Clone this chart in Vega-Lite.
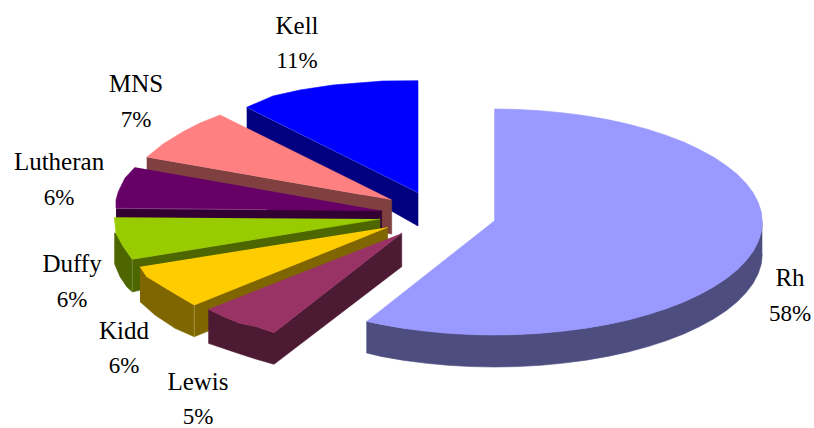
{
  "$schema": "https://vega.github.io/schema/vega-lite/v6.json",
  "width": 814,
  "height": 428,
  "padding": 0,
  "autosize": {"type": "none"},
  "background": "white",
  "config": {"view": {"stroke": null}},
  "datasets": {
    "faces": [
      {"face":"Kell side","ord":1,"x":-160.3,"y":106.7},{"face":"Kell side","ord":2,"x":11,"y":21.3},{"face":"Kell side","ord":3,"x":11,"y":-12},{"face":"Kell side","ord":4,"x":-160.3,"y":85},
      {"face":"Kell top","ord":1,"x":-160.3,"y":106.7},{"face":"Kell top","ord":2,"x":-134,"y":118},{"face":"Kell top","ord":3,"x":-107,"y":124},{"face":"Kell top","ord":4,"x":-74,"y":129},{"face":"Kell top","ord":5,"x":-24,"y":133},{"face":"Kell top","ord":6,"x":11,"y":133.3},{"face":"Kell top","ord":7,"x":11,"y":21.3},
      {"face":"Kell edge","ord":1,"x":-160.3,"y":106.7},{"face":"Kell edge","ord":2,"x":11,"y":21.3},
      {"face":"MNS side","ord":1,"x":-260.3,"y":56.7},{"face":"MNS side","ord":2,"x":-15.3,"y":14},{"face":"MNS side","ord":3,"x":-15.3,"y":-20},{"face":"MNS side","ord":4,"x":-260.3,"y":22},
      {"face":"MNS top","ord":1,"x":-260.3,"y":56.7},{"face":"MNS top","ord":2,"x":-244,"y":70},{"face":"MNS top","ord":3,"x":-224,"y":82.3},{"face":"MNS top","ord":4,"x":-207,"y":91},{"face":"MNS top","ord":5,"x":-187,"y":99},{"face":"MNS top","ord":6,"x":-15.3,"y":14},
      {"face":"Lutheran side","ord":1,"x":-291,"y":5.7},{"face":"Lutheran side","ord":2,"x":-25.3,"y":3.3},{"face":"Lutheran side","ord":3,"x":-25.3,"y":-16},{"face":"Lutheran side","ord":4,"x":-291,"y":-16},
      {"face":"Lutheran top","ord":1,"x":-272,"y":46.7},{"face":"Lutheran top","ord":2,"x":-282,"y":36},{"face":"Lutheran top","ord":3,"x":-288.7,"y":22.3},{"face":"Lutheran top","ord":4,"x":-291,"y":14},{"face":"Lutheran top","ord":5,"x":-291,"y":5.7},{"face":"Lutheran top","ord":6,"x":-25.3,"y":3.3},
      {"face":"Lutheran edge","ord":1,"x":-291,"y":5.7},{"face":"Lutheran edge","ord":2,"x":-140,"y":4.3},
      {"face":"Duffy side","ord":1,"x":-292.7,"y":-19},{"face":"Duffy side","ord":2,"x":-291,"y":-19.3},{"face":"Duffy side","ord":3,"x":-283.7,"y":-32.7},{"face":"Duffy side","ord":4,"x":-274.7,"y":-45.3},{"face":"Duffy side","ord":5,"x":-27,"y":-5},{"face":"Duffy side","ord":6,"x":-27,"y":-18},{"face":"Duffy side","ord":7,"x":-274.7,"y":-78},{"face":"Duffy side","ord":8,"x":-280.3,"y":-72.7},{"face":"Duffy side","ord":9,"x":-287,"y":-62.7},{"face":"Duffy side","ord":10,"x":-292.7,"y":-49.3},
      {"face":"Duffy top","ord":1,"x":-292.7,"y":-3.3},{"face":"Duffy top","ord":2,"x":-291,"y":-19.3},{"face":"Duffy top","ord":3,"x":-283.7,"y":-32.7},{"face":"Duffy top","ord":4,"x":-274.7,"y":-45.3},{"face":"Duffy top","ord":5,"x":-27,"y":-5},
      {"face":"Duffy edge","ord":1,"x":-274.7,"y":-45.3},{"face":"Duffy edge","ord":2,"x":-274.7,"y":-78},
      {"face":"Kidd side","ord":1,"x":-267,"y":-52.7},{"face":"Kidd side","ord":2,"x":-260.3,"y":-62.7},{"face":"Kidd side","ord":3,"x":-243.7,"y":-72.7},{"face":"Kidd side","ord":4,"x":-227,"y":-82.7},{"face":"Kidd side","ord":5,"x":-212.7,"y":-91},{"face":"Kidd side","ord":6,"x":-19.3,"y":-13.3},{"face":"Kidd side","ord":7,"x":-19.3,"y":-26},{"face":"Kidd side","ord":8,"x":-198.7,"y":-117},{"face":"Kidd side","ord":9,"x":-212.7,"y":-122.7},{"face":"Kidd side","ord":10,"x":-232,"y":-114.3},{"face":"Kidd side","ord":11,"x":-252,"y":-101},{"face":"Kidd side","ord":12,"x":-267,"y":-87.7},
      {"face":"Kidd top","ord":1,"x":-267,"y":-52.7},{"face":"Kidd top","ord":2,"x":-260.3,"y":-62.7},{"face":"Kidd top","ord":3,"x":-243.7,"y":-72.7},{"face":"Kidd top","ord":4,"x":-227,"y":-82.7},{"face":"Kidd top","ord":5,"x":-212.7,"y":-91},{"face":"Kidd top","ord":6,"x":-19.3,"y":-13.3},
      {"face":"Kidd edge","ord":1,"x":-212.7,"y":-91},{"face":"Kidd edge","ord":2,"x":-212.7,"y":-122.7},
      {"face":"Lewis side","ord":1,"x":-198.7,"y":-95.3},{"face":"Lewis side","ord":2,"x":-183.7,"y":-102.7},{"face":"Lewis side","ord":3,"x":-167,"y":-109.3},{"face":"Lewis side","ord":4,"x":-150.3,"y":-112.7},{"face":"Lewis side","ord":5,"x":-133,"y":-118.7},{"face":"Lewis side","ord":6,"x":-5.3,"y":-19.3},{"face":"Lewis side","ord":7,"x":-5.3,"y":-52.7},{"face":"Lewis side","ord":8,"x":-133,"y":-150.3},{"face":"Lewis side","ord":9,"x":-153.7,"y":-144.3},{"face":"Lewis side","ord":10,"x":-173.7,"y":-137.7},{"face":"Lewis side","ord":11,"x":-198.7,"y":-129.3},
      {"face":"Lewis top","ord":1,"x":-198.7,"y":-95.3},{"face":"Lewis top","ord":2,"x":-183.7,"y":-102.7},{"face":"Lewis top","ord":3,"x":-167,"y":-109.3},{"face":"Lewis top","ord":4,"x":-150.3,"y":-112.7},{"face":"Lewis top","ord":5,"x":-133,"y":-118.7},{"face":"Lewis top","ord":6,"x":-5.3,"y":-19.3},
      {"face":"Rh side","ord":1,"x":355.3,"y":-8},{"face":"Rh side","ord":2,"x":354.3,"y":-17.9},{"face":"Rh side","ord":3,"x":351.2,"y":-27.6},{"face":"Rh side","ord":4,"x":346.2,"y":-37.2},{"face":"Rh side","ord":5,"x":339.1,"y":-46.6},{"face":"Rh side","ord":6,"x":330.2,"y":-55.8},{"face":"Rh side","ord":7,"x":319.4,"y":-64.5},{"face":"Rh side","ord":8,"x":306.8,"y":-72.8},{"face":"Rh side","ord":9,"x":292.6,"y":-80.6},{"face":"Rh side","ord":10,"x":276.8,"y":-87.9},{"face":"Rh side","ord":11,"x":259.6,"y":-94.6},{"face":"Rh side","ord":12,"x":241,"y":-100.6},{"face":"Rh side","ord":13,"x":221.3,"y":-105.9},{"face":"Rh side","ord":14,"x":200.6,"y":-110.4},{"face":"Rh side","ord":15,"x":179,"y":-114.2},{"face":"Rh side","ord":16,"x":156.7,"y":-117.1},{"face":"Rh side","ord":17,"x":133.8,"y":-119.3},{"face":"Rh side","ord":18,"x":110.7,"y":-120.6},{"face":"Rh side","ord":19,"x":87.3,"y":-121},{"face":"Rh side","ord":20,"x":63.9,"y":-120.6},{"face":"Rh side","ord":21,"x":40.8,"y":-119.3},{"face":"Rh side","ord":22,"x":17.9,"y":-117.1},{"face":"Rh side","ord":23,"x":-4.4,"y":-114.2},{"face":"Rh side","ord":24,"x":-25.9,"y":-110.4},{"face":"Rh side","ord":25,"x":-40.3,"y":-107.4},{"face":"Rh side","ord":26,"x":-40.3,"y":-139},{"face":"Rh side","ord":27,"x":-25.9,"y":-142.4},{"face":"Rh side","ord":28,"x":-4.4,"y":-146.2},{"face":"Rh side","ord":29,"x":17.9,"y":-149.1},{"face":"Rh side","ord":30,"x":40.8,"y":-151.3},{"face":"Rh side","ord":31,"x":63.9,"y":-152.6},{"face":"Rh side","ord":32,"x":87.3,"y":-153},{"face":"Rh side","ord":33,"x":110.7,"y":-152.6},{"face":"Rh side","ord":34,"x":133.8,"y":-151.3},{"face":"Rh side","ord":35,"x":156.7,"y":-149.1},{"face":"Rh side","ord":36,"x":179,"y":-146.2},{"face":"Rh side","ord":37,"x":200.6,"y":-142.4},{"face":"Rh side","ord":38,"x":221.3,"y":-137.9},{"face":"Rh side","ord":39,"x":241,"y":-132.6},{"face":"Rh side","ord":40,"x":259.6,"y":-126.6},{"face":"Rh side","ord":41,"x":276.8,"y":-119.9},{"face":"Rh side","ord":42,"x":292.6,"y":-112.6},{"face":"Rh side","ord":43,"x":306.8,"y":-104.8},{"face":"Rh side","ord":44,"x":319.4,"y":-96.5},{"face":"Rh side","ord":45,"x":330.2,"y":-87.8},{"face":"Rh side","ord":46,"x":339.1,"y":-78.6},{"face":"Rh side","ord":47,"x":346.2,"y":-69.2},{"face":"Rh side","ord":48,"x":351.2,"y":-59.6},{"face":"Rh side","ord":49,"x":354.3,"y":-49.9},{"face":"Rh side","ord":50,"x":355.3,"y":-40},
      {"face":"Rh top","ord":1,"x":87.3,"y":105},{"face":"Rh top","ord":2,"x":110.7,"y":104.6},{"face":"Rh top","ord":3,"x":133.5,"y":103.3},{"face":"Rh top","ord":4,"x":156.7,"y":101.1},{"face":"Rh top","ord":5,"x":178.7,"y":98.2},{"face":"Rh top","ord":6,"x":200.6,"y":94.4},{"face":"Rh top","ord":7,"x":221,"y":89.9},{"face":"Rh top","ord":8,"x":241,"y":84.6},{"face":"Rh top","ord":9,"x":259.3,"y":78.6},{"face":"Rh top","ord":10,"x":276.8,"y":71.9},{"face":"Rh top","ord":11,"x":292.3,"y":64.6},{"face":"Rh top","ord":12,"x":306.8,"y":56.8},{"face":"Rh top","ord":13,"x":319.1,"y":48.5},{"face":"Rh top","ord":14,"x":330.2,"y":39.8},{"face":"Rh top","ord":15,"x":339.1,"y":30.6},{"face":"Rh top","ord":16,"x":346.2,"y":21.2},{"face":"Rh top","ord":17,"x":351.2,"y":11.6},{"face":"Rh top","ord":18,"x":354.3,"y":1.9},{"face":"Rh top","ord":19,"x":355.3,"y":-8},{"face":"Rh top","ord":20,"x":354.3,"y":-17.9},{"face":"Rh top","ord":21,"x":351.2,"y":-27.6},{"face":"Rh top","ord":22,"x":346.2,"y":-37.2},{"face":"Rh top","ord":23,"x":339.1,"y":-46.6},{"face":"Rh top","ord":24,"x":330.2,"y":-55.8},{"face":"Rh top","ord":25,"x":319.4,"y":-64.5},{"face":"Rh top","ord":26,"x":306.8,"y":-72.8},{"face":"Rh top","ord":27,"x":292.6,"y":-80.6},{"face":"Rh top","ord":28,"x":276.8,"y":-87.9},{"face":"Rh top","ord":29,"x":259.6,"y":-94.6},{"face":"Rh top","ord":30,"x":241,"y":-100.6},{"face":"Rh top","ord":31,"x":221.3,"y":-105.9},{"face":"Rh top","ord":32,"x":200.6,"y":-110.4},{"face":"Rh top","ord":33,"x":179,"y":-114.2},{"face":"Rh top","ord":34,"x":156.7,"y":-117.1},{"face":"Rh top","ord":35,"x":133.8,"y":-119.3},{"face":"Rh top","ord":36,"x":110.7,"y":-120.6},{"face":"Rh top","ord":37,"x":87.3,"y":-121},{"face":"Rh top","ord":38,"x":63.9,"y":-120.6},{"face":"Rh top","ord":39,"x":40.8,"y":-119.3},{"face":"Rh top","ord":40,"x":17.9,"y":-117.1},{"face":"Rh top","ord":41,"x":-4.4,"y":-114.2},{"face":"Rh top","ord":42,"x":-25.9,"y":-110.4},{"face":"Rh top","ord":43,"x":-40.3,"y":-107.4},{"face":"Rh top","ord":44,"x":87.3,"y":-7}
    ],
    "labels": [
      {"group":"Kell","share":0.11,"x":-110,"y":188,"py":153},
      {"group":"MNS","share":0.07,"x":-271,"y":130,"py":94},
      {"group":"Lutheran","share":0.06,"x":-348,"y":52,"py":16},
      {"group":"Duffy","share":0.06,"x":-335,"y":-50,"py":-86},
      {"group":"Kidd","share":0.06,"x":-283,"y":-117,"py":-152},
      {"group":"Lewis","share":0.05,"x":-209,"y":-168,"py":-203},
      {"group":"Rh","share":0.58,"x":383,"y":-64,"py":-100}
    ]
  },
  "layer": [
    {
      "data": {"name": "faces"},
      "mark": {"type": "line", "strokeWidth": 0.6, "clip": false},
      "encoding": {
        "x": {"field": "x", "type": "quantitative", "scale": {"domain": [-407, 407]}, "axis": null},
        "y": {"field": "y", "type": "quantitative", "scale": {"domain": [-214, 214]}, "axis": null},
        "order": {"field": "ord", "type": "quantitative"},
        "detail": {"field": "face"},
        "fill": {
          "field": "face",
          "type": "nominal",
          "legend": null,
          "scale": {
            "domain": ["Kell side","Kell top","Kell edge","MNS side","MNS top","Lutheran side","Lutheran top","Lutheran edge","Duffy side","Duffy top","Duffy edge","Kidd side","Kidd top","Kidd edge","Lewis side","Lewis top","Rh side","Rh top"],
            "range": ["#000080","#0000FF","#4A4AEE","#804040","#FF8080","#330033","#660066","#A060A0","#4D6600","#99CC00","#8FA060","#806600","#FFCC00","#C0B070","#4D1A33","#993366","#4D4D80","#9999FF"]
          }
        },
        "stroke": {
          "field": "face",
          "type": "nominal",
          "legend": null,
          "scale": {
            "domain": ["Kell side","Kell top","Kell edge","MNS side","MNS top","Lutheran side","Lutheran top","Lutheran edge","Duffy side","Duffy top","Duffy edge","Kidd side","Kidd top","Kidd edge","Lewis side","Lewis top","Rh side","Rh top"],
            "range": ["#000080","#0000FF","#4A4AEE","#804040","#FF8080","#330033","#660066","#A060A0","#4D6600","#99CC00","#8FA060","#806600","#FFCC00","#C0B070","#4D1A33","#993366","#4D4D80","#9999FF"]
          }
        }
      }
    },
    {
      "data": {"name": "labels"},
      "mark": {"type": "text", "font": "Liberation Serif", "fontSize": 25, "color": "#000000"},
      "encoding": {
        "x": {"field": "x", "type": "quantitative", "scale": {"domain": [-407, 407]}, "axis": null},
        "y": {"field": "y", "type": "quantitative", "scale": {"domain": [-214, 214]}, "axis": null},
        "text": {"field": "group"}
      }
    },
    {
      "data": {"name": "labels"},
      "mark": {"type": "text", "font": "Liberation Serif", "fontSize": 23, "color": "#000000"},
      "encoding": {
        "x": {"field": "x", "type": "quantitative", "scale": {"domain": [-407, 407]}, "axis": null},
        "y": {"field": "py", "type": "quantitative", "scale": {"domain": [-214, 214]}, "axis": null},
        "text": {"field": "share", "type": "quantitative", "format": ".0%"}
      }
    }
  ]
}
